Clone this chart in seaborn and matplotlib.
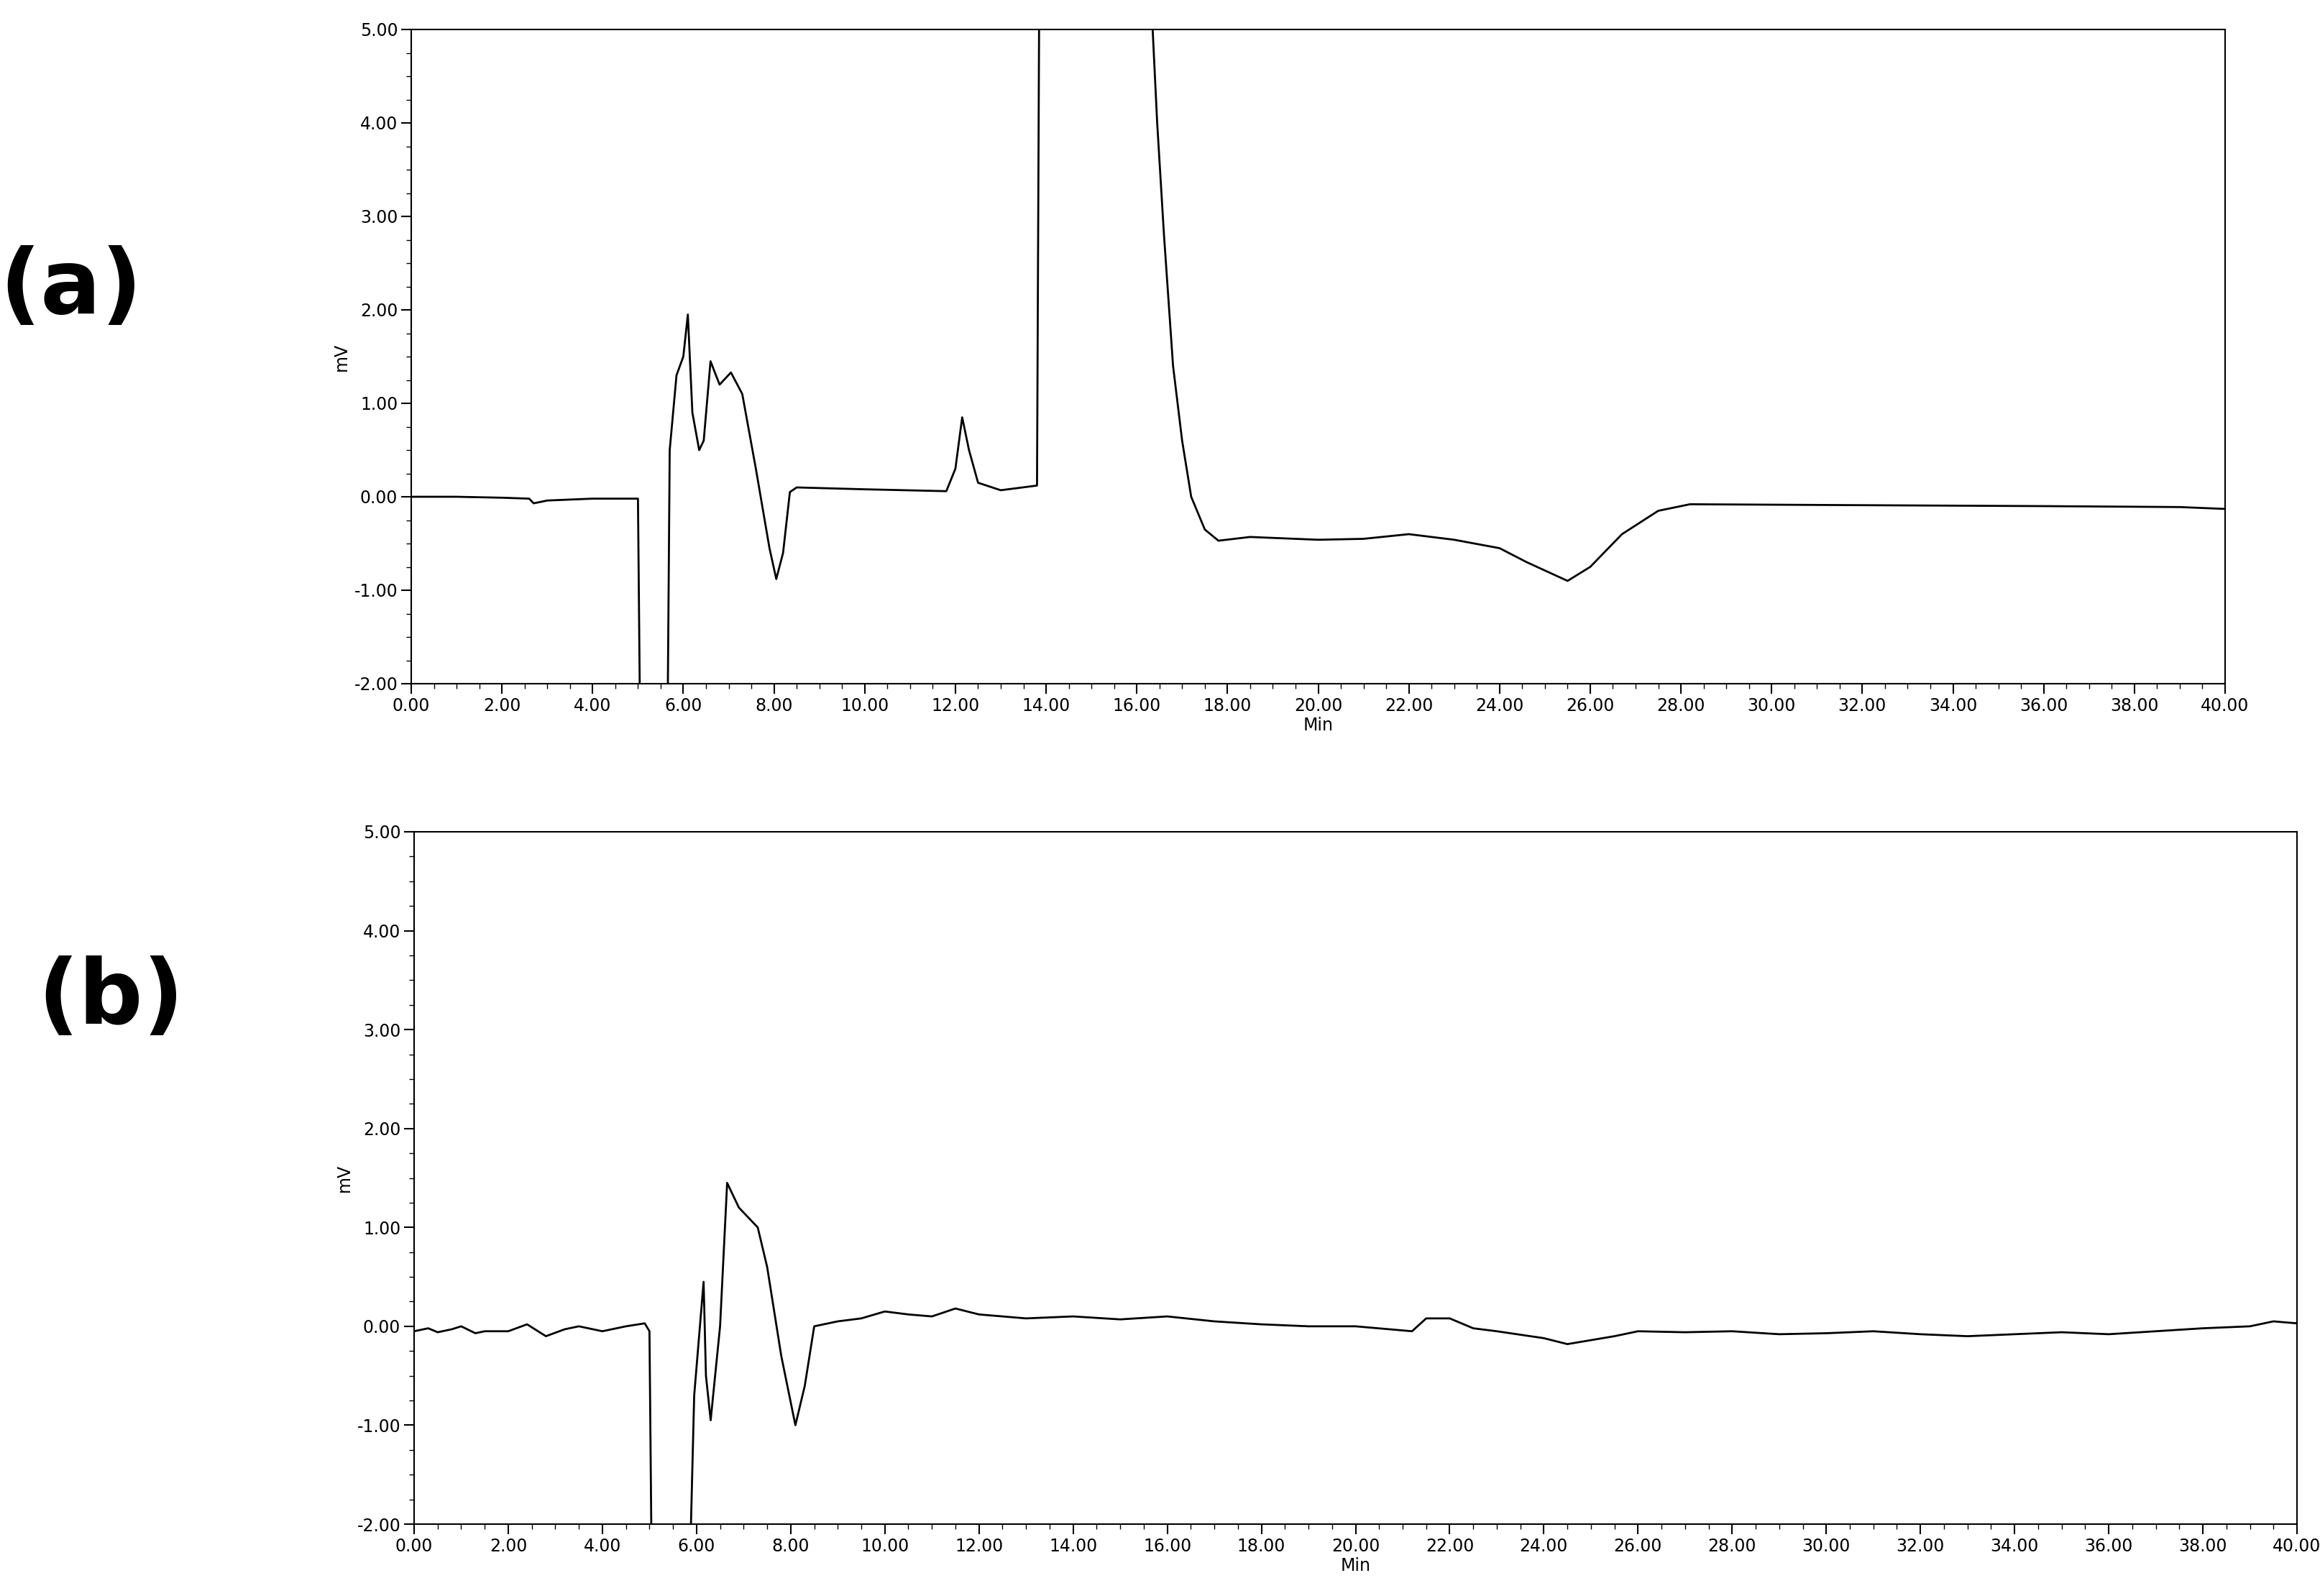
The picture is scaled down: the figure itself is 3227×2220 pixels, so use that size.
import matplotlib
matplotlib.use("Agg")
import matplotlib.pyplot as plt
import seaborn as sns
import pandas as pd

sns.set_style("white")
plt.rcParams['font.family'] = ['DejaVu Sans']
plt.rcParams['text.color'] = 'black'
plt.rcParams['xtick.color'] = 'black'
plt.rcParams['ytick.color'] = 'black'
plt.rcParams['axes.labelcolor'] = 'black'

xa = [0,1,2,2.6,2.7,3,4,5.0,5.05,5.65,5.7,5.85,6.0,6.1,6.2,6.35,6.45,6.6,6.8,7.05,7.3,7.6,7.9,8.05,8.2,8.35,8.5,10,11.8,12.0,12.15,12.3,12.5,13,13.8,13.85,16.3,16.45,16.6,16.8,17.0,17.2,17.5,17.8,18.5,20,21,22,23,24,24.6,25.5,26,26.7,27.5,28.2,32,36,39,40]
ya = [0,0.0,-0.01,-0.02,-0.07,-0.04,-0.02,-0.02,-2.6,-2.6,0.5,1.3,1.5,1.95,0.9,0.5,0.6,1.45,1.2,1.33,1.1,0.3,-0.55,-0.88,-0.6,0.05,0.1,0.08,0.06,0.3,0.85,0.5,0.15,0.07,0.12,5.5,5.5,4.0,2.8,1.4,0.6,0.0,-0.35,-0.47,-0.43,-0.46,-0.45,-0.4,-0.46,-0.55,-0.7,-0.9,-0.75,-0.4,-0.15,-0.08,-0.09,-0.1,-0.11,-0.13]

xb = [0,0.3,0.5,0.8,1,1.3,1.5,2,2.4,2.8,3.2,3.5,4,4.5,4.9,5.0,5.05,5.85,5.95,6.15,6.2,6.3,6.5,6.65,6.9,7.3,7.5,7.8,8.1,8.3,8.5,9,9.5,10,10.5,11,11.5,12,12.5,13,14,15,16,17,18,19,20,21.2,21.5,22,22.5,23,24,24.5,25,25.5,26,27,28,29,30,31,32,33,34,35,36,37,38,39,39.5,40]
yb = [-0.05,-0.02,-0.06,-0.03,0.0,-0.07,-0.05,-0.05,0.02,-0.1,-0.03,0.0,-0.05,0.0,0.03,-0.05,-2.6,-2.6,-0.7,0.45,-0.5,-0.95,0.0,1.45,1.2,1.0,0.6,-0.3,-1.0,-0.6,0.0,0.05,0.08,0.15,0.12,0.1,0.18,0.12,0.1,0.08,0.1,0.07,0.1,0.05,0.02,0.0,0.0,-0.05,0.08,0.08,-0.02,-0.05,-0.12,-0.18,-0.14,-0.1,-0.05,-0.06,-0.05,-0.08,-0.07,-0.05,-0.08,-0.1,-0.08,-0.06,-0.08,-0.05,-0.02,0.0,0.05,0.03]

fig = plt.figure(figsize=(32.27, 22.2), dpi=100)
ax1 = fig.add_axes([572/3227, 1-951/2220, (3095-572)/3227, (951-41)/2220])
ax2 = fig.add_axes([576/3227, 1-2120/2220, (3195-576)/3227, (2120-1157)/2220])

ticks = [i*2 for i in range(21)]
for ax, x, y in [(ax1, xa, ya), (ax2, xb, yb)]:
    sns.lineplot(data=pd.DataFrame({"x": x, "y": y}), x="x", y="y", ax=ax,
                 color="black", linewidth=2, estimator=None)
    ax.set_xlim(0, 40)
    ax.set_ylim(-2, 5)
    ax.set_xticks(ticks)
    ax.set_xticklabels([f"{t:.2f}" for t in ticks], fontsize=17)
    yt = list(range(-2, 6))
    ax.set_yticks(yt)
    ax.set_yticklabels([f"{t:.2f}" for t in yt], fontsize=17)
    ax.set_xticks([i*0.5 for i in range(81)], minor=True)
    ax.set_yticks([-2 + i*0.25 for i in range(29)], minor=True)
    ax.tick_params(which="major", direction="out", length=10, width=1.5, bottom=True, left=True)
    ax.tick_params(which="minor", direction="out", length=5, width=1, bottom=True, left=True)
    ax.set_xlabel("Min", fontsize=17, labelpad=2)
    ax.set_ylabel("mV", fontsize=17)
    for s in ax.spines.values():
        s.set_color("black"); s.set_linewidth(1.5)

fig.text(99/3227, 1-401/2220, "(a)", fontsize=90, fontweight="bold", ha="center", va="center", color="black")
fig.text(154/3227, 1-1389/2220, "(b)", fontsize=90, fontweight="bold", ha="center", va="center", color="black")
fig.savefig("out.png", dpi=100)
